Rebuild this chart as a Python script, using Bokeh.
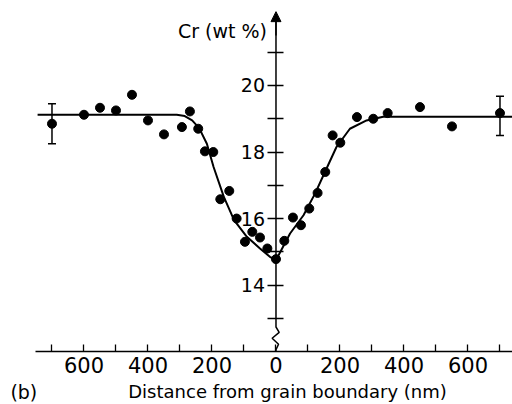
from bokeh.plotting import figure
from bokeh.models import (Range1d, LinearAxis, FixedTicker, Label, Whisker, TeeHead,
                          Arrow, NormalHead, ColumnDataSource)
from bokeh.embed import file_html
from bokeh.resources import INLINE

# measured Cr content vs distance from grain boundary
dist = [-700, -600, -550, -500, -450, -400, -350, -294, -269, -243, -222, -196,
        -174, -146, -123, -97, -74, -50, -27, 0, 26, 53, 78, 104, 130, 154,
        177, 201, 253, 304, 349, 450, 550, 700]
cr = [18.85, 19.12, 19.33, 19.25, 19.72, 18.95, 18.53, 18.75, 19.22, 18.70, 18.02, 18.00,
      16.58, 16.83, 16.00, 15.30, 15.60, 15.43, 15.10, 14.78, 15.33, 16.03, 15.80, 16.30,
      16.77, 17.40, 18.50, 18.28, 19.05, 19.00, 19.17, 19.35, 18.77, 19.17]

# fitted profile
fit_dist = [-745, -310, -285, -262, -240, -216, -195, -163, -131, -91, -50, -19, 0,
            44, 86, 122, 153, 189, 231, 283, 335, 740]
fit_cr = [19.12, 19.12, 19.08, 18.95, 18.72, 18.25, 17.55, 16.65, 15.95, 15.45, 15.10, 14.85, 14.75,
          15.55, 16.10, 16.75, 17.40, 18.15, 18.70, 18.95, 19.06, 19.06]

# error bars
err_dist = [-700, 700]
err_low = [18.25, 18.50]
err_high = [19.45, 19.68]

# ticks
x_major = [-600, -400, -200, 0, 200, 400, 600]
x_minor = [-700, -500, -300, -100, 100, 300, 500, 700]
x_labels = {v: str(abs(v)) for v in x_major}
y_major = [14, 16, 18, 20]
y_minor = [13, 15, 17, 19, 21]

# broken vertical axis (zig-zag near the bottom)
axis_x = [0, 0, 10, -12, 8, 0, 0]
axis_y = [22.0, 12.74, 12.58, 12.40, 12.22, 12.06, 12.0]

FONT = "DejaVu Sans"
Y_BASE = 12.0

p = figure(width=512, height=404, x_range=Range1d(-860.9, 739.1), y_range=Range1d(10.41, 22.555),
           output_backend="svg", toolbar_location=None, x_axis_location=None, y_axis_location=None,
           min_border_left=0, min_border_right=0, min_border_top=0, min_border_bottom=0)
p.xgrid.visible = False
p.ygrid.visible = False
p.outline_line_color = None
p.background_fill_color = "white"
p.border_fill_color = "white"

xa = LinearAxis(fixed_location=Y_BASE, bounds=(-751.6, 739.1),
                ticker=FixedTicker(ticks=x_major, minor_ticks=x_minor),
                major_label_overrides=x_labels,
                major_tick_in=7, major_tick_out=0, minor_tick_in=7, minor_tick_out=0,
                axis_line_width=1.5, major_tick_line_width=1.3, minor_tick_line_width=1.3,
                axis_line_color="black", major_tick_line_color="black",
                minor_tick_line_color="black",
                major_label_text_font=FONT, major_label_text_font_size="21px",
                major_label_text_color="black", major_label_standoff=5)
p.add_layout(xa, "below")

ya = LinearAxis(fixed_location=0, ticker=FixedTicker(ticks=y_major, minor_ticks=y_minor),
                axis_line_color=None, major_tick_in=8, major_tick_out=8,
                minor_tick_in=8, minor_tick_out=8,
                major_tick_line_color="black", minor_tick_line_color="black",
                major_tick_line_width=1.3, minor_tick_line_width=1.3,
                major_label_standoff=3, major_label_text_font=FONT,
                major_label_text_font_size="19px", major_label_text_color="black")
p.add_layout(ya, "left")

p.line(axis_x, axis_y, line_color="black", line_width=1.5)
p.add_layout(Arrow(end=NormalHead(size=10, fill_color="black", line_color="black"),
                   x_start=0, y_start=21.5, x_end=0, y_end=22.22,
                   line_color="black", line_width=1.5))

p.line(fit_dist, fit_cr, line_color="black", line_width=2)

err_src = ColumnDataSource(dict(x=err_dist, lower=err_low, upper=err_high))
p.add_layout(Whisker(source=err_src, base="x", lower="lower", upper="upper", dimension="height",
                     line_color="black", line_width=1.5,
                     upper_head=TeeHead(size=8, line_color="black", line_width=1.5),
                     lower_head=TeeHead(size=8, line_color="black", line_width=1.5)))

p.scatter(dist, cr, marker="circle", size=9, fill_color="black", line_color="black")

p.add_layout(Label(x=0, y=21.65, x_offset=-9, text="Cr (wt %)", text_align="right",
                   text_baseline="middle", text_font=FONT, text_font_size="19px",
                   text_color="black"))
p.add_layout(Label(x=36, y=10.79, text="Distance from grain boundary (nm)",
                   text_align="center", text_baseline="middle", text_font=FONT,
                   text_font_size="18px", text_color="black"))
p.add_layout(Label(x=-830, y=10.79, text="(b)",
                   text_align="left", text_baseline="middle", text_font=FONT,
                   text_font_size="19px", text_color="black"))

open("out.html", "w").write(file_html(p, INLINE))
